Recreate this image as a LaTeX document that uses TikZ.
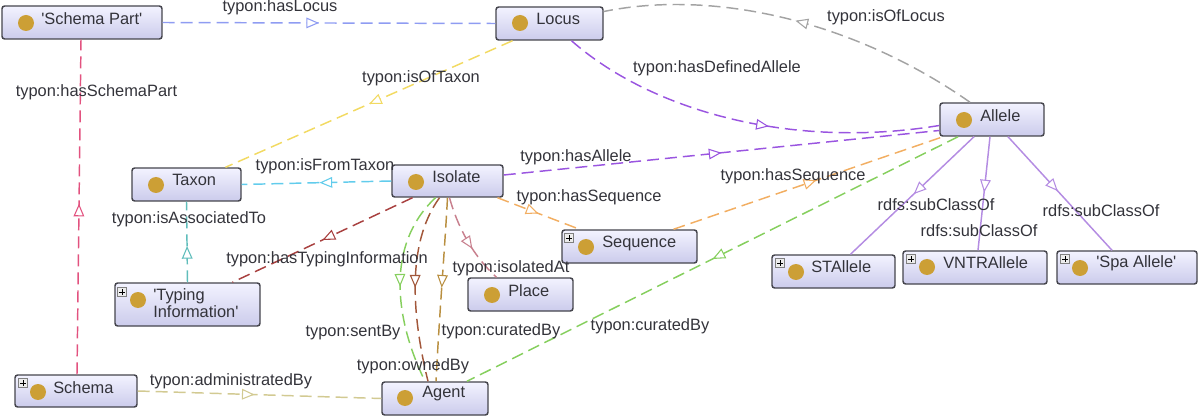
\documentclass[tikz,border=0pt]{standalone}
\usepackage{fontspec}
\setmainfont[Ligatures=TeXOff]{Liberation Sans}
\usetikzlibrary{arrows.meta,calc,decorations.markings}
\definecolor{boxedge}{HTML}{45454D}
\definecolor{dotgold}{HTML}{CC9F35}
\definecolor{textgrey}{HTML}{33333A}
\definecolor{cLocus}{HTML}{8F9CF2}
\definecolor{cSchemaPart}{HTML}{E2527F}
\definecolor{cTaxon}{HTML}{F2DA62}
\definecolor{cGrey}{HTML}{A3A3A3}
\definecolor{cPurple}{HTML}{9A55E0}
\definecolor{cSub}{HTML}{B48CE2}
\definecolor{cOrange}{HTML}{F2AE62}
\definecolor{cGreen}{HTML}{86CF5E}
\definecolor{cCyan}{HTML}{62CCEC}
\definecolor{cTeal}{HTML}{5FBDBB}
\definecolor{cDarkRed}{HTML}{A8403F}
\definecolor{cOwned}{HTML}{A2573A}
\definecolor{cOchre}{HTML}{B98F40}
\definecolor{cRose}{HTML}{C8808E}
\definecolor{cKhaki}{HTML}{D2CA92}
\tikzset{
  classbox/.style 2 args={draw=boxedge,line width=1.1pt,rounded corners=2pt,
    top color=white!92!blue!60!white,bottom color=blue!45!gray!28!white,
    inner sep=0pt,minimum width=#1*0.75pt,minimum height=#2*0.75pt},
  golddot/.style={circle,fill=dotgold,inner sep=0pt,minimum size=12pt},
  classtext/.style={font=\fontsize{12.3}{13}\selectfont,text=textgrey,anchor=west,inner sep=0pt,align=left},
  edgetext/.style={font=\fontsize{12.3}{14}\selectfont,text=textgrey,inner sep=0pt},
  expander/.style={draw=gray,fill=gray!15,line width=.5pt,inner sep=0pt,minimum size=7pt,
    path picture={\draw[black,line width=.6pt]
      (path picture bounding box.west)++(1.5pt,0)--++(4pt,0)
      (path picture bounding box.south)++(0,1.5pt)--++(0,4pt);}},
  link/.style={line width=1.1pt,dash pattern=on 9pt off 4.5pt},
  tipat/.style={postaction={decorate,decoration={markings,
    mark=at position #1 with {\arrow[line width=.8pt]{Triangle[length=9.5pt,width=8pt,fill=white]}}}}}
}
\begin{document}
\begin{tikzpicture}[x=0.75pt,y=-0.75pt]
\useasboundingbox (0,0) rectangle (1200,417);

% class boxes
\node[classbox={160}{33}] (schemapart) at (82,22.5) {};
\node[classbox={107}{33}] (locus) at (549.5,23.5) {};
\node[classbox={104}{33}] (allele) at (992,119.5) {};
\node[classbox={109}{33}] (taxon) at (186.5,184.5) {};
\node[classbox={111}{32}] (isolate) at (447.5,181) {};
\node[classbox={135}{33}] (sequence) at (629.5,246.5) {};
\node[classbox={145}{43}] (typing) at (187.5,304.5) {};
\node[classbox={105}{33}] (place) at (520.5,294.5) {};
\node[classbox={122}{32}] (schema) at (76,391) {};
\node[classbox={106}{33}] (agent) at (435,398.5) {};
\node[classbox={123}{33}] (stallele) at (833.5,271.5) {};
\node[classbox={144}{33}] (vntr) at (975,267.5) {};
\node[classbox={140}{33}] (spa) at (1127,267.5) {};

% collapse buttons
\node[expander] (xsequence) at (569,238) {};
\node[expander] (xtyping) at (122,292) {};
\node[expander] (xschema) at (23,383) {};
\node[expander] (xstallele) at (780,263) {};
\node[expander] (xvntr) at (911,259) {};
\node[expander] (xspa) at (1065,259) {};

% class icons
\node[golddot] (dschemapart) at (26,23) {};
\node[golddot] (dlocus) at (520,23) {};
\node[golddot] (dallele) at (964,120) {};
\node[golddot] (dtaxon) at (156,185) {};
\node[golddot] (disolate) at (416,182) {};
\node[golddot] (dsequence) at (586,247) {};
\node[golddot] (dtyping) at (138,300) {};
\node[golddot] (dplace) at (492,295) {};
\node[golddot] (dschema) at (38,392) {};
\node[golddot] (dagent) at (405,398) {};
\node[golddot] (dstallele) at (796,272) {};
\node[golddot] (dvntr) at (927,267) {};
\node[golddot] (dspa) at (1080,268) {};

% class names
\node[classtext] (tschemapart) at (41,19) {'Schema Part'};
\node[classtext] (tlocus) at (536,19) {Locus};
\node[classtext] (tallele) at (980,116) {Allele};
\node[classtext] (ttaxon) at (172,180) {Taxon};
\node[classtext] (tisolate) at (432,177) {Isolate};
\node[classtext] (tsequence) at (602,243) {Sequence};
\node[classtext,font=\fontsize{12.3}{10.4}\selectfont] (ttyping) at (153,303) {'Typing\\Information'};
\node[classtext] (tplace) at (508,291) {Place};
\node[classtext] (tschema) at (53,388) {Schema};
\node[classtext] (tagent) at (422,394) {Agent};
\node[classtext] (tstallele) at (811,267) {STAllele};
\node[classtext] (tvntr) at (943,263) {VNTRAllele};
\node[classtext] (tspa) at (1096,263) {'Spa Allele'};

% object properties
\draw[link,cLocus,tipat=.47] (schemapart.east) -- (locus.west);
\draw[link,cSchemaPart,tipat=.51] ($(schema.north)+(1,0)$) -- ($(schemapart.south)+(-1,0)$);
\draw[link,cTaxon,tipat=.5] ($(locus.south)+(-37,0)$) -- ($(taxon.north)+(39,0)$);
\draw[link,cGrey,tipat=.5] ($(allele.north)+(-22,0)$) .. controls (860,25) and (720,-12) .. ($(locus.east)+(0,-12)$);
\draw[link,cPurple,tipat=.56] ($(locus.south)+(22,0)$) .. controls (650,110) and (790,150) .. ($(allele.west)+(0,6)$);
\draw[link,cPurple,tipat=.5] ($(isolate.east)+(0,-6)$) -- ($(allele.west)+(0,11)$);
\draw[link,cOrange,tipat=.5] ($(isolate.south)+(50,0)$) -- ($(sequence.north)+(-50,0)$);
\draw[link,cOrange,tipat=.53] ($(sequence.north)+(44,0)$) -- ($(allele.south)+(-49,0)$);
\draw[link,cGreen,tipat=.5] ($(allele.south)+(-34,0)$) -- ($(agent.north)+(32,0)$);
\draw[link,cCyan,tipat=.48] (isolate.west) -- (taxon.east);
\draw[link,cTeal,tipat=.45] ($(typing.north)+(0,0)$) -- ($(taxon.south)+(0,0)$);
\draw[link,cDarkRed,tipat=.5] ($(isolate.south)+(-35,0)$) -- ($(typing.north)+(45,0)$);
\draw[link,cGreen,tipat=.5] ($(isolate.south)+(-12,0)$) .. controls (385,245) and (395,320) .. ($(agent.north)+(-10,0)$);
\draw[link,cOwned,tipat=.5] ($(isolate.south)+(-8,0)$) .. controls (405,245) and (413,320) .. ($(agent.north)+(-7,0)$);
\draw[link,cOchre,tipat=.49] ($(isolate.south)+(0,0)$) .. controls (445,245) and (439,320) .. ($(agent.north)+(1,0)$);
\draw[link,cRose,tipat=.6] ($(isolate.south)+(2,0)$) .. controls (457,225) and (472,255) .. ($(place.north)+(-24,0)$);
\draw[link,cKhaki,tipat=.48] (schema.east) -- (agent.west);

% subclass edges
\draw[cSub,line width=1.1pt,tipat=.49] ($(allele.south)+(-18,0)$) -- ($(stallele.north)+(17,0)$);
\draw[cSub,line width=1.1pt,tipat=.49] ($(allele.south)+(-2,0)$) -- ($(vntr.north)+(3,0)$);
\draw[cSub,line width=1.1pt,tipat=.48] ($(allele.south)+(16,0)$) -- ($(spa.north)+(-15,0)$);

% edge labels
\node[edgetext] (l1) at (280,7) {typon:hasLocus};
\node[edgetext] (l2) at (96.5,92) {typon:hasSchemaPart};
\node[edgetext] (l3) at (421,78) {typon:isOfTaxon};
\node[edgetext] (l4) at (717,68) {typon:hasDefinedAllele};
\node[edgetext] (l5) at (886,17) {typon:isOfLocus};
\node[edgetext] (l6) at (325,166) {typon:isFromTaxon};
\node[edgetext] (l7) at (576,157) {typon:hasAllele};
\node[edgetext] (l8) at (589,197) {typon:hasSequence};
\node[edgetext] (l9) at (793,176) {typon:hasSequence};
\node[edgetext] (l10) at (189,219) {typon:isAssociatedTo};
\node[edgetext] (l11) at (327,259) {typon:hasTypingInformation};
\node[edgetext] (l12) at (511,268) {typon:isolatedAt};
\node[edgetext] (l13) at (353,333) {typon:sentBy};
\node[edgetext] (l14) at (501,331) {typon:curatedBy};
\node[edgetext] (l15) at (650,326) {typon:curatedBy};
\node[edgetext] (l16) at (413,366) {typon:ownedBy};
\node[edgetext] (l17) at (231,381) {typon:administratedBy};
\node[edgetext] (l18) at (936,205) {rdfs:subClassOf};
\node[edgetext] (l19) at (979,231) {rdfs:subClassOf};
\node[edgetext] (l20) at (1101,211) {rdfs:subClassOf};
\end{tikzpicture}
\end{document}
